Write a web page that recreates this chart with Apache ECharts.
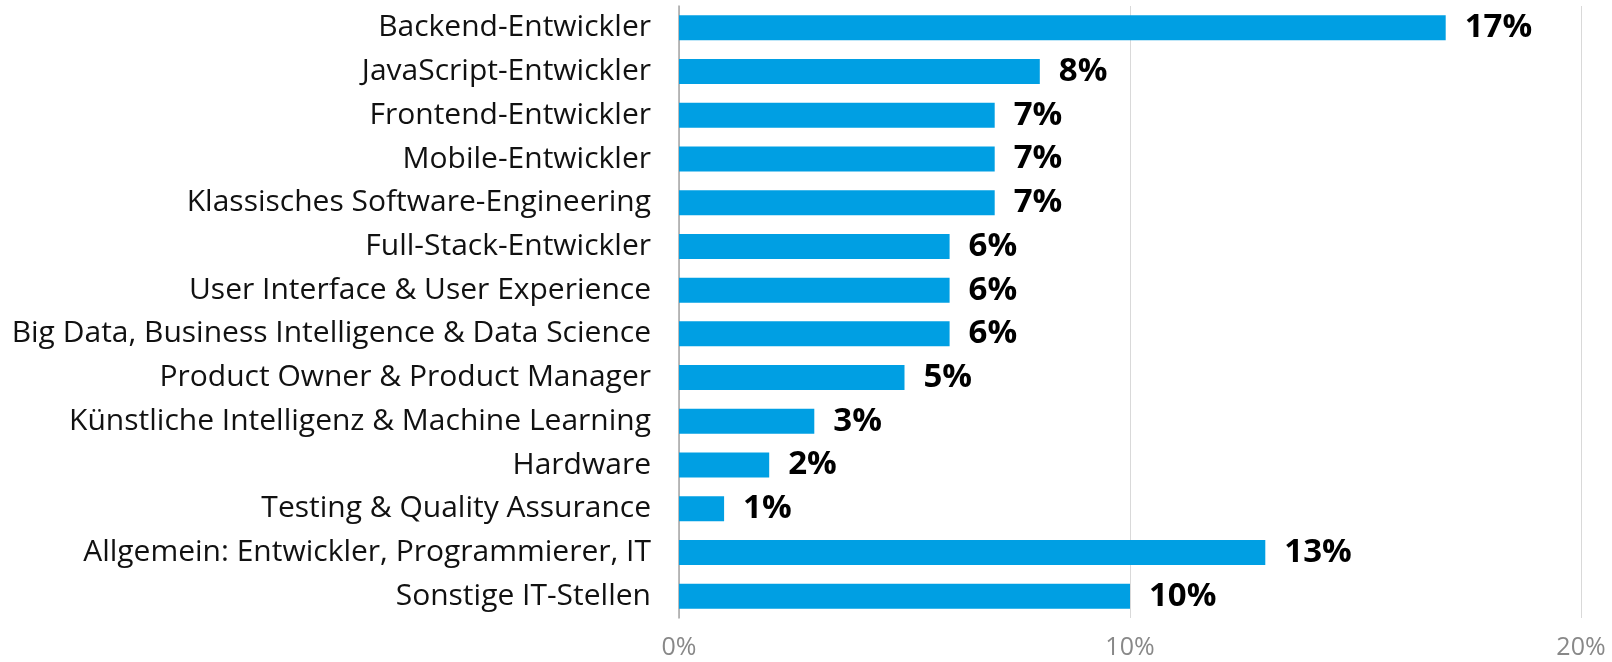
<!DOCTYPE html>
<html>
<head>
<meta charset="utf-8">
<script src="https://cdn.jsdelivr.net/npm/echarts@6/dist/echarts.min.js"></script>
<style>
html,body{margin:0;padding:0;background:#fff;}
#chart{width:1612px;height:662px;}
</style>
</head>
<body>
<div id="chart"></div>
<script>
const categories = [
  "Backend-Entwickler",
  "JavaScript-Entwickler",
  "Frontend-Entwickler",
  "Mobile-Entwickler",
  "Klassisches Software-Engineering",
  "Full-Stack-Entwickler",
  "User Interface & User Experience",
  "Big Data, Business Intelligence & Data Science",
  "Product Owner & Product Manager",
  "Künstliche Intelligenz & Machine Learning",
  "Hardware",
  "Testing & Quality Assurance",
  "Allgemein: Entwickler, Programmierer, IT",
  "Sonstige IT-Stellen"
];
const values = [17, 8, 7, 7, 7, 6, 6, 6, 5, 3, 2, 1, 13, 10];
const xTicks = [0, 10, 20];

const FONT = "Open Sans";
const chart = echarts.init(document.getElementById('chart'), null, {renderer: 'canvas'});
chart.setOption({
  animation: false,
  backgroundColor: '#ffffff',
  grid: {left: 679, right: 31, top: 6, bottom: 44, containLabel: false},
  xAxis: {
    type: 'value',
    min: xTicks[0],
    max: xTicks[xTicks.length - 1],
    interval: 10,
    axisLine: {show: false},
    axisTick: {show: false},
    splitLine: {show: true, lineStyle: {color: '#d9d9d9', width: 1}},
    axisLabel: {
      formatter: '{value}%',
      color: '#888888',
      fontFamily: FONT,
      fontSize: 25,
      margin: 17
    }
  },
  yAxis: {
    type: 'category',
    data: categories,
    inverse: true,
    axisLine: {show: true, lineStyle: {color: '#a6a6a6', width: 1.5}},
    axisTick: {show: false},
    splitLine: {show: false},
    axisLabel: {
      color: '#111111',
      fontFamily: FONT,
      fontSize: 30,
      margin: 28
    }
  },
  series: [{
    type: 'bar',
    data: values,
    barWidth: 25,
    itemStyle: {color: '#009fe3'},
    label: {
      show: true,
      position: 'right',
      distance: 19,
      formatter: '{c}%',
      color: '#000000',
      fontFamily: FONT,
      fontWeight: 'bold',
      fontSize: 33
    }
  }]
});
</script>
</body>
</html>
